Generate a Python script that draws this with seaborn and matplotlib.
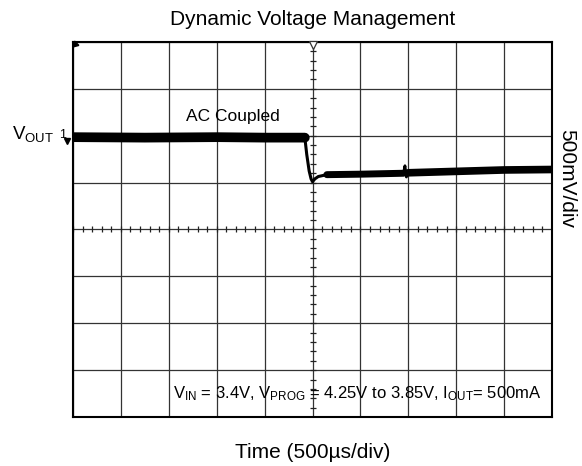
import matplotlib
matplotlib.use('Agg')
import matplotlib.pyplot as plt
import numpy as np
import pandas as pd
import seaborn as sns

# Trace (x in time divisions, y in volt divisions)
pre_x = [0.0, 1.5, 3.0, 4.0, 4.84]
pre_y = [1.97, 1.96, 1.97, 1.96, 1.96]
step_x = [4.84, 4.88, 4.93, 4.97, 5.0, 5.05, 5.12, 5.3]
step_y = [1.96, 1.6, 1.25, 1.08, 1.02, 1.08, 1.13, 1.17]
post_x = [5.3, 6.0, 6.9]
post_y = [1.17, 1.18, 1.2]
glitch_x = [6.9, 6.93, 6.96, 7.0]
glitch_y = [1.2, 1.36, 1.12, 1.21]
tail_x = [7.0, 8.0, 9.0, 10.0]
tail_y = [1.21, 1.24, 1.27, 1.28]

title = 'Dynamic Voltage Management'
x_label = 'Time (500µs/div)'
y_label = '500mV/div'
note = r'V$_{\mathrm{IN}}$ = 3.4V, V$_{\mathrm{PROG}}$ = 4.25V to 3.85V, I$_{\mathrm{OUT}}$= 500mA'

sns.set_theme(style='white')
plt.rcParams['font.family'] = ['Liberation Sans', 'DejaVu Sans']
plt.rcParams['text.color'] = 'black'
plt.rcParams['axes.labelcolor'] = 'black'
plt.rcParams['mathtext.fontset'] = 'custom'
plt.rcParams['mathtext.rm'] = 'Liberation Sans'
plt.rcParams['mathtext.it'] = 'Liberation Sans:italic'

fig = plt.figure(figsize=(5.82, 4.66), dpi=100)
ax = fig.add_axes([73 / 582, 49 / 466, 479 / 582, 375 / 466])

segments = [(pre_x, pre_y, 7), (step_x, step_y, 2.2), (post_x, post_y, 5),
            (glitch_x, glitch_y, 2.0), (tail_x, tail_y, 5.5)]
for xs, ys, w in segments:
    sns.lineplot(x=xs, y=ys, ax=ax, color='black', lw=w, zorder=5)

ax.set_xlim(0, 10)
ax.set_ylim(-4, 4)
ax.set_xticks(np.arange(0, 11, 1))
ax.set_yticks(np.arange(-4, 5, 1))
ax.grid(True, color='#333333', lw=0.9)
ax.tick_params(length=0, labelbottom=False, labelleft=False)
for s in ax.spines.values():
    s.set_color('black')
    s.set_linewidth(1.5)

# center graticule ticks
minor = np.arange(0, 10.01, 0.2)
ax.plot(minor, np.zeros_like(minor), ls='none', marker='|', ms=5, mew=0.9, color='#222222')
minor_y = np.arange(-4, 4.01, 0.2)
ax.plot(np.full_like(minor_y, 5.0), minor_y, ls='none', marker='_', ms=5, mew=0.9, color='#222222')

# scope markers
ax.plot([5.0], [3.93], marker='v', ms=6, mfc='white', mec='#333333', mew=0.9, clip_on=False, zorder=6)
ax.plot([0.04], [3.96], marker=(3, 0, 135), ms=5, color='black', clip_on=False, zorder=6)
ax.plot([-0.13], [1.88], marker='v', ms=4, color='black', clip_on=False, zorder=6)

ax.set_title(title, fontsize=15, pad=12)
ax.set_xlabel(x_label, fontsize=15, labelpad=19)
ax.text((567 - 73) / 479, 0.635, y_label, transform=ax.transAxes, rotation=-90,
        ha='center', va='center', fontsize=15)

ax.text(-0.4, 2.03, r'V$_{\mathrm{OUT}}$', ha='right', va='center', fontsize=13.5, clip_on=False)
ax.text(-0.22, 2.02, '1', ha='center', va='center', fontsize=9, clip_on=False)
ax.text(2.36, 2.4, 'AC Coupled', ha='left', va='center', fontsize=12.5)
ax.text(9.79, -3.5, note, ha='right', va='center', fontsize=12)

fig.savefig('out.png', dpi=100)
